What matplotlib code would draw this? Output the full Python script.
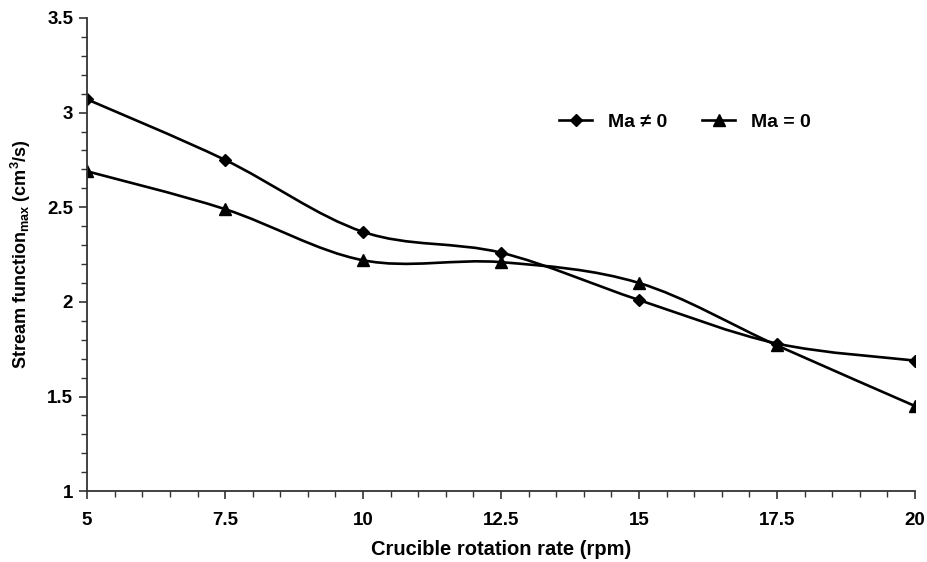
import matplotlib
matplotlib.use('Agg')
import matplotlib.pyplot as plt
import numpy as np
from matplotlib.path import Path
from matplotlib.patches import PathPatch
from matplotlib.ticker import MultipleLocator

plt.rcParams['font.family'] = ['Liberation Sans', 'DejaVu Sans']
plt.rcParams['font.weight'] = 'bold'
plt.rcParams['mathtext.fontset'] = 'custom'
plt.rcParams['mathtext.rm'] = 'Liberation Sans'
plt.rcParams['mathtext.bf'] = 'Liberation Sans:bold'

rotation_rate = [5, 7.5, 10, 12.5, 15, 17.5, 20]
stream_ma = [3.07, 2.75, 2.37, 2.26, 2.01, 1.78, 1.69]
stream_no_ma = [2.69, 2.49, 2.22, 2.21, 2.10, 1.77, 1.45]


def smooth_path(x, y):
    # Excel-like smoothed line through the points (cubic Bezier segments)
    pts = np.column_stack([x, y]).astype(float)
    n = len(pts)
    verts = [pts[0]]
    codes = [Path.MOVETO]
    for i in range(n - 1):
        p0 = pts[i - 1] if i > 0 else pts[i]
        p1 = pts[i]
        p2 = pts[i + 1]
        p3 = pts[i + 2] if i + 2 < n else pts[i + 1]
        c1 = p1 + (p2 - p0) / 6
        c2 = p2 - (p3 - p1) / 6
        verts += [c1, c2, p2]
        codes += [Path.CURVE4] * 3
    return Path(verts, codes)


fig = plt.figure(figsize=(9.27, 5.62), dpi=100)
ax = fig.add_axes([0.094, 0.126, 0.893, 0.842])

for ys, marker, ms, label in [(stream_ma, 'D', 6, 'Ma ≠ 0'), (stream_no_ma, '^', 8, 'Ma = 0')]:
    ax.add_patch(PathPatch(smooth_path(rotation_rate, ys), facecolor='none',
                           edgecolor='black', linewidth=1.9))
    ax.plot(rotation_rate, ys, linestyle='none', marker=marker, markersize=ms, color='black')
    ax.plot([], [], color='black', linewidth=1.9, marker=marker, markersize=ms, label=label)

ax.set_xlim(5, 20)
ax.set_ylim(1, 3.5)
ax.xaxis.set_major_locator(MultipleLocator(2.5))
ax.xaxis.set_minor_locator(MultipleLocator(0.5))
ax.yaxis.set_major_locator(MultipleLocator(0.5))
ax.yaxis.set_minor_locator(MultipleLocator(0.1))
ax.xaxis.set_major_formatter(plt.FuncFormatter(lambda v, p: f'{v:g}'))
ax.yaxis.set_major_formatter(plt.FuncFormatter(lambda v, p: f'{v:g}'))

for side in ['top', 'right']:
    ax.spines[side].set_visible(False)
for side in ['left', 'bottom']:
    ax.spines[side].set_linewidth(1.3)
    ax.spines[side].set_color('#333333')

ax.tick_params(which='major', direction='out', length=6, width=1.2, labelsize=13.5, color='#333333')
ax.tick_params(which='minor', direction='out', length=4, width=1.0, color='#333333')
ax.tick_params(axis='x', pad=9)
ax.tick_params(axis='y', pad=4)

ax.set_xlabel('Crucible rotation rate (rpm)', fontsize=14.5, fontweight='bold', labelpad=8)
ax.set_ylabel(r'Stream function$_{\mathrm{max}}$ (cm$^{\mathrm{3}}$/s)', fontsize=13,
              fontweight='bold', labelpad=10)

ax.legend(loc='center', bbox_to_anchor=(0.722, 0.78), ncol=2, frameon=False, fontsize=14,
          handlelength=1.7, columnspacing=1.8, handletextpad=0.8)

plt.savefig('out.png', dpi=100)
